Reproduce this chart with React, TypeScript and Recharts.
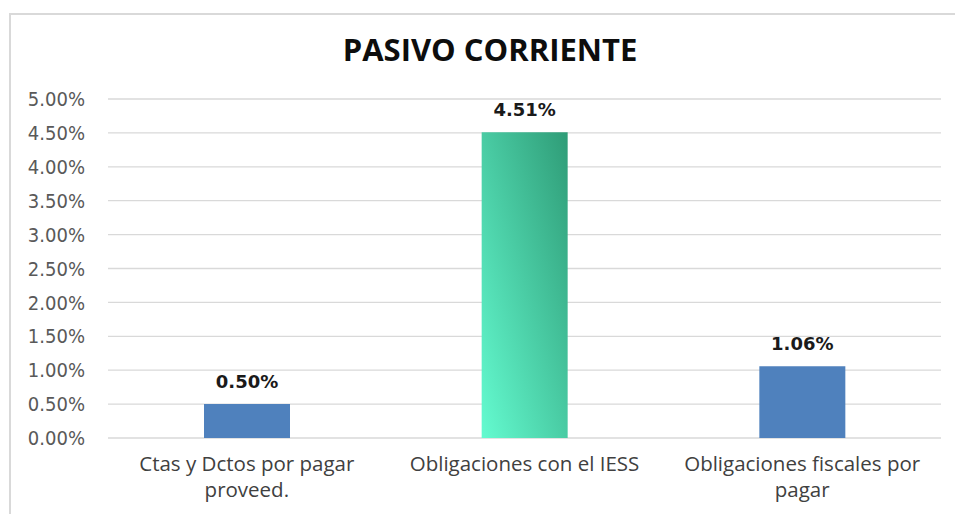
import React from 'react';
import { BarChart, Bar, XAxis, YAxis, CartesianGrid, Cell, LabelList } from 'recharts';

const categories = ['Ctas y Dctos por pagar proveed.', 'Obligaciones con el IESS', 'Obligaciones fiscales por pagar'];
const values = [0.5, 4.51, 1.06];
const yTicks = [0, 0.5, 1, 1.5, 2, 2.5, 3, 3.5, 4, 4.5, 5];
const barColors = ['#4f81bd', 'url(#iessGradient)', '#4f81bd'];

const data = categories.map((name, i) => ({ name, value: values[i] }));

const pct = (v: number) => `${v.toFixed(2)}%`;

// simple word wrap by character count
const wrap = (s: string, max: number) => {
  const lines: string[] = [];
  let cur = '';
  s.split(' ').forEach((w) => {
    const next = cur ? `${cur} ${w}` : w;
    if (next.length > max && cur) {
      lines.push(cur);
      cur = w;
    } else {
      cur = next;
    }
  });
  if (cur) lines.push(cur);
  return lines;
};

const CategoryTick = (props: any) => {
  const { x, y, payload } = props;
  const lines = wrap(String(payload.value), 25);
  return (
    <text
      x={x}
      y={y}
      textAnchor="middle"
      fill="#404040"
      style={{ fontFamily: '"Open Sans", sans-serif', fontSize: 20.5 }}
    >
      {lines.map((l, i) => (
        <tspan key={i} x={x} dy={i === 0 ? 33 : 26}>
          {l}
        </tspan>
      ))}
    </text>
  );
};

export default function App() {
  return (
    <div style={{ position: 'relative', width: 955, height: 514, overflow: 'hidden', background: '#fff' }}>
      <style>{`body{margin:0}`}</style>
      <div
        style={{
          position: 'absolute',
          left: 9,
          top: 13,
          width: 980,
          height: 540,
          border: '2px solid #d9d9d9',
          boxSizing: 'border-box',
        }}
      />
      <div
        style={{
          position: 'absolute',
          left: 0,
          top: 28,
          width: 955,
          textAlign: 'center',
          fontFamily: '"Open Sans", sans-serif',
          fontWeight: 700,
          fontSize: 31,
          color: '#0d0d0d',
          paddingLeft: 25,
          boxSizing: 'border-box',
        }}
      >
        PASIVO CORRIENTE
      </div>
      <div style={{ position: 'absolute', left: 0, top: 0 }}>
        <BarChart
          width={955}
          height={514}
          data={data}
          margin={{ top: 99, right: 14, bottom: 0, left: 0 }}
          barSize={86}
        >
          <defs>
            <linearGradient id="iessGradient" x1="0" y1="1" x2="1" y2="0">
              <stop offset="0%" stopColor="#64fbd0" />
              <stop offset="100%" stopColor="#2f9c77" />
            </linearGradient>
          </defs>
          <CartesianGrid vertical={false} stroke="#d9d9d9" strokeWidth={1.3} />
          <XAxis
            dataKey="name"
            height={76}
            axisLine={false}
            tickLine={false}
            tickSize={0}
            tickMargin={0}
            interval={0}
            tick={<CategoryTick />}
          />
          <YAxis
            width={108}
            domain={[0, 5]}
            ticks={yTicks}
            tickFormatter={pct}
            axisLine={false}
            tickLine={false}
            tickSize={0}
            tickMargin={23}
            tick={{ fill: '#595959', fontSize: 20, fontFamily: '"DejaVu Sans Condensed", "DejaVu Sans", sans-serif' }}
          />
          <Bar dataKey="value" isAnimationActive={false}>
            {data.map((d, i) => (
              <Cell key={d.name} fill={barColors[i]} />
            ))}
            <LabelList
              dataKey="value"
              position="top"
              offset={16}
              formatter={(v: any) => pct(Number(v))}
              style={{ fill: '#1a1a1a', fontWeight: 700, fontSize: 18, fontFamily: '"DejaVu Sans", sans-serif' }}
            />
          </Bar>
        </BarChart>
      </div>
    </div>
  );
}
